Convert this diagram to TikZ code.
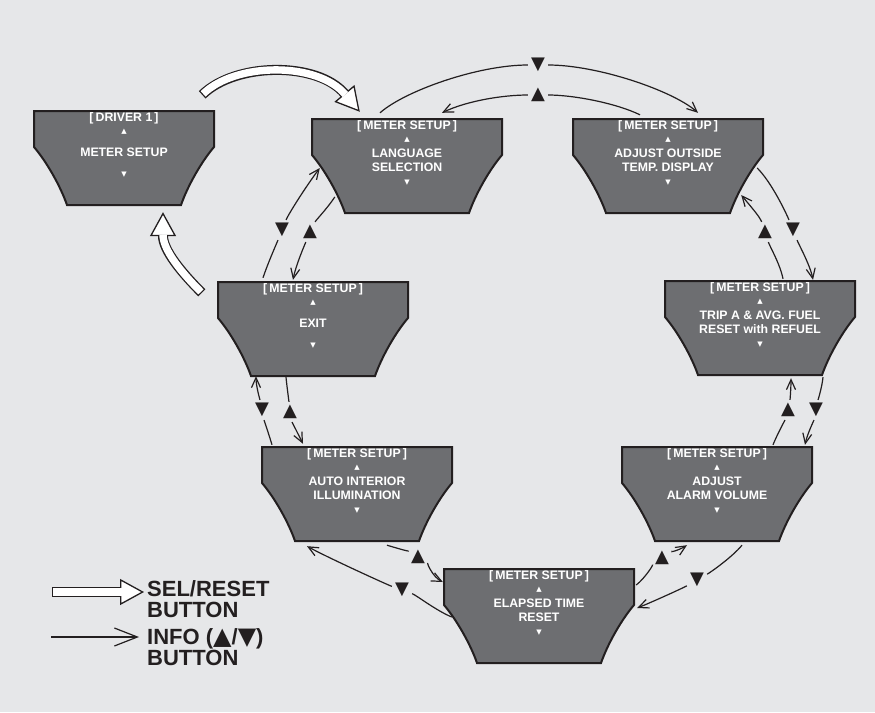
\documentclass[tikz,border=0pt]{standalone}
\usepackage{fontspec}
\setmainfont{Liberation Sans}
\newfontfamily\symf{DejaVu Sans}
\usetikzlibrary{arrows.meta,calc}
\definecolor{bg}{HTML}{E6E7E9}
\definecolor{lcdfill}{HTML}{6D6E71}
\definecolor{ink}{HTML}{231F20}
\tikzset{
 lcdshape/.style={fill=lcdfill, draw=ink, line width=2pt, line join=miter},
 boxarea/.style={minimum height=94pt, inner sep=0pt},
 lcdtxt/.style={text=white, font=\bfseries\fontsize{12.3}{14}\selectfont, align=center, inner sep=0pt},
 lcdtri/.style={text=white, font=\symf\fontsize{7}{7}\selectfont, inner sep=0pt},
 bigtri/.style={text=ink, font=\symf\fontsize{18}{18}\selectfont, inner sep=3pt},
 seg/.style={draw=ink, line width=1.2pt},
 conn/.style={draw=ink, line width=1.2pt, -{Straight Barb[length=10pt,width=9pt,line width=1.2pt]}},
 selblack/.style={draw=ink, line width=10pt, -{Triangle[length=24pt,width=26pt,fill=white,line width=1.3pt]}},
 selwhite/.style={draw=white, line width=7.4pt, shorten <=1.3pt, shorten >=22.5pt},
 legendtxt/.style={font=\bfseries\fontsize{22}{21}\selectfont, text=ink, align=left, anchor=west, inner sep=0pt},
}
\newcommand\lcdbox[6]{%
 \draw[lcdshape] (#2,#3) -- ++(#4,0) -- ++(0,36) .. controls +(-12,14) and +(7,-20) .. ++(-33,58) -- ++({66-#4},0) .. controls +(-7,-20) and +(12,14) .. ++(-33,-58) -- cycle;
 \node[boxarea, minimum width=#4pt] (#1) at ({#2+#4/2},{#3+47}) {};
 \node[lcdtxt] (#1-hdr) at ({#2+#4/2},{#3+7.5}) {#5};
 \node[lcdtri] (#1-up) at ({#2+#4/2},{#3+20.5}) {▲};
 \node[lcdtxt] (#1-txt) at ({#2+#4/2},{#3+41.5}) {#6};
 \node[lcdtri] (#1-dn) at ({#2+#4/2},{#3+64}) {▼};
}
\begin{document}
\begin{tikzpicture}[x=1pt,y=-1pt]
\fill[bg] (0,0) rectangle (875,712);
\useasboundingbox (0,0) rectangle (875,712);

\lcdbox{driver}{34}{111}{180}{[\,DRIVER 1\,]}{METER SETUP}
\lcdbox{lang}{312}{119}{190}{[\,METER SETUP\,]}{LANGUAGE\\SELECTION}
\lcdbox{temp}{573}{119}{190}{[\,METER SETUP\,]}{ADJUST OUTSIDE\\TEMP. DISPLAY}
\lcdbox{exit}{218}{282}{190}{[\,METER SETUP\,]}{EXIT}
\lcdbox{trip}{665}{281}{190}{[\,METER SETUP\,]}{TRIP A \& AVG. FUEL\\RESET with REFUEL}
\lcdbox{auto}{262}{447}{190}{[\,METER SETUP\,]}{AUTO INTERIOR\\ILLUMINATION}
\lcdbox{alarm}{622}{447}{190}{[\,METER SETUP\,]}{ADJUST\\ALARM VOLUME}
\lcdbox{elapsed}{444}{569}{190}{[\,METER SETUP\,]}{ELAPSED TIME\\RESET}

% SEL/RESET arrows
\coordinate (s1a) at ($(driver.north east)+(-12,-16)$);
\coordinate (s1b) at ($(lang.north west)+(48,-7)$);
\draw[selblack] (s1a) .. controls +(34,-33) and +(-42,-50) .. (s1b);
\draw[selwhite] (s1a) .. controls +(34,-33) and +(-42,-50) .. (s1b);
\coordinate (s2a) at ($(exit.north west)+(-16,11)$);
\coordinate (s2b) at ($(driver.south)+(39,7)$);
\draw[selblack] (s2a) .. controls +(-20,-20) and +(0,38) .. (s2b);
\draw[selwhite] (s2a) .. controls +(-20,-20) and +(0,38) .. (s2b);

% top
\node[bigtri] (t1) at (538,65) {▼};
\draw[seg] ($(lang.north)+(-27,-6)$) .. controls +(25,-22) and +(-60,0) .. (t1);
\draw[conn] (t1) .. controls +(60,0) and +(-25,-22) .. ($(temp.north)+(30,-6)$);
\node[bigtri] (t2) at (538,95) {▲};
\draw[seg] ($(temp.north)+(-28,-4)$) .. controls +(-25,-12) and +(35,0) .. (t2);
\draw[conn] (t2) .. controls +(-35,0) and +(25,-12) .. ($(lang.north)+(35,-6)$);
% right upper
\node[bigtri] (t3) at (793,230) {▼};
\draw[seg] ($(temp.east)+(-6,2)$) .. controls +(15,15) and +(-6,-15) .. (t3);
\draw[conn] (t3) .. controls +(6,15) and +(-3,-15) .. ($(trip.north)+(53,-1)$);
\node[bigtri] (t4) at (765,232) {▲};
\draw[seg] ($(trip.north)+(23,-2)$) .. controls +(-3,-15) and +(5,15) .. (t4);
\draw[conn] (t4) .. controls +(-5,-15) and +(10,12) .. ($(temp.east)+(-22,29)$);
% left upper
\node[bigtri] (t5) at (282,230) {▼};
\draw[seg] ($(exit.north)+(-50,-4)$) .. controls +(5,-15) and +(-6,15) .. (t5);
\draw[conn] (t5) .. controls +(6,-15) and +(-15,20) .. ($(lang.west)+(8,2)$);
\node[bigtri] (t6) at (310,232) {▲};
\draw[seg] ($(lang.west)+(23,31)$) .. controls +(-8,12) and +(6,-12) .. (t6);
\draw[conn] (t6) .. controls +(-5,12) and +(3,-15) .. ($(exit.north)+(-20,-2)$);
% right lower
\node[bigtri] (t7) at (816,410) {▼};
\draw[seg] ($(trip.south)+(63,2)$) .. controls +(-1,10) and +(2,-10) .. (t7);
\draw[conn] (t7) .. controls +(-2,10) and +(2,-10) .. ($(alarm.north)+(88,-2)$);
\node[bigtri] (t8) at (788,410) {▲};
\draw[seg] ($(alarm.north)+(56,-2)$) .. controls +(4,-10) and +(-3,10) .. (t8);
\draw[conn] (t8) .. controls +(2,-10) and +(0,10) .. ($(trip.south)+(31,3)$);
% left lower
\node[bigtri] (t9) at (262,410) {▼};
\draw[seg] ($(auto.north)+(-85,-2)$) .. controls +(-3,-10) and +(2,10) .. (t9);
\draw[conn] (t9) .. controls +(-2,-10) and +(0,10) .. ($(exit.south)+(-57,0)$);
\node[bigtri] (t10) at (290,412) {▲};
\draw[seg] ($(exit.south)+(-27,1)$) .. controls +(1,10) and +(-1,-10) .. (t10);
\draw[conn] (t10) .. controls +(2,10) and +(-5,-10) .. ($(auto.north)+(-54,-3)$);
% bottom left
\node[bigtri] (t11) at (402,590) {▼};
\draw[seg] ($(elapsed.west)+(8,1)$) .. controls +(-15,-6) and +(14,5) .. (t11);
\draw[conn] (t11) .. controls +(-14,-5) and +(22,12) .. ($(auto.south)+(-50,5)$);
\node[bigtri] (t12) at (418,557) {▲};
\draw[seg] ($(auto.south)+(30,4)$) .. controls +(10,3) and +(-8,-5) .. (t12);
\draw[conn] (t12) .. controls +(8,5) and +(-10,-5) .. ($(elapsed.west)+(-1,-34)$);
% bottom right
\node[bigtri] (t13) at (662,558) {▲};
\draw[seg] ($(elapsed.east)+(2,-31)$) .. controls +(8,-6) and +(-7,5) .. (t13);
\draw[conn] (t13) .. controls +(7,-5) and +(-8,5) .. ($(alarm.south)+(-30,4)$);
\node[bigtri] (t14) at (697,580) {▼};
\draw[seg] ($(alarm.south)+(25,4)$) .. controls +(-10,12) and +(14,-8) .. (t14);
\draw[conn] (t14) .. controls +(-14,8) and +(15,-6) .. ($(elapsed.east)+(3,-8)$);

% legend
\coordinate (la) at (52,592);
\coordinate (lb) at (144,592);
\draw[selblack] (la) -- (lb);
\draw[selwhite] (la) -- (lb);
\node[legendtxt] (lsel) at (147,599) {SEL/RESET\\BUTTON};
\coordinate (lc) at (51,637);
\coordinate (ld) at (139,637);
\draw[draw=ink, line width=1.2pt, -{Straight Barb[length=23pt,width=18pt,line width=1.2pt]}] (lc) -- (ld);
\node[legendtxt] (linfo) at (147,647) {INFO ({\symf\fontsize{24}{21}\selectfont ▲}/{\symf\fontsize{24}{21}\selectfont ▼})\\BUTTON};
\end{tikzpicture}
\end{document}
